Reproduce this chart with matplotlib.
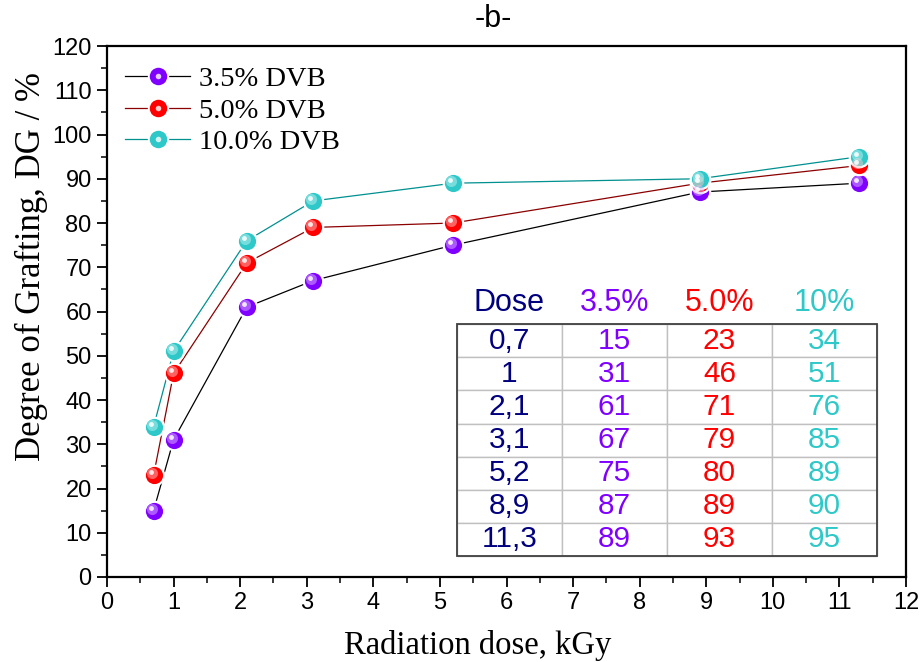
import numpy as np
import matplotlib.pyplot as plt
from matplotlib.ticker import MultipleLocator
from matplotlib.transforms import offset_copy
from matplotlib.legend_handler import HandlerTuple
from matplotlib.lines import Line2D

# data
dose = [0.7, 1, 2.1, 3.1, 5.2, 8.9, 11.3]
dose_lbl = ['0,7', '1', '2,1', '3,1', '5,2', '8,9', '11,3']
dg_35 = [15, 31, 61, 67, 75, 87, 89]
dg_50 = [23, 46, 71, 79, 80, 89, 93]
dg_10 = [34, 51, 76, 85, 89, 90, 95]
labels = ['3.5% DVB', '5.0% DVB', '10.0% DVB']
col_heads = ['Dose', '3.5%', '5.0%', '10%']

# marker colour, light shade, line colour
styles = [('#8000ff', '#d9b3ff', '#000000'),
          ('#ff0000', '#ffc0c0', '#8b0000'),
          ('#2ec8c8', '#c0f0f0', '#009090')]
head_colors = ['#00007f', '#8000ff', '#ff0000', '#2ec8c8']

fig = plt.figure(figsize=(9.2, 6.62), dpi=100)
ax = fig.add_axes([0.1163, 0.1284, 0.8685, 0.8021])

serif = ['Liberation Serif', 'DejaVu Serif']
narrow = ['Liberation Sans Narrow', 'Liberation Sans', 'DejaVu Sans']
sans = ['Liberation Sans', 'DejaVu Sans']

hi1 = offset_copy(ax.transData, fig=fig, x=-2, y=2, units='dots')
hi2 = offset_copy(ax.transData, fig=fig, x=-3, y=3, units='dots')

handles = []
for ys, lab, (mc, lc, ln) in zip([dg_35, dg_50, dg_10], labels, styles):
    ax.plot(dose, ys, '-', color=ln, lw=0.9, zorder=2)
    ax.plot(dose, ys, 'o', ms=14, mfc=mc, mec='white', mew=1.6, zorder=3)
    ax.plot(dose, ys, 'o', ms=8, mfc=lc, mec='none', alpha=0.5,
            transform=hi1, zorder=4)
    ax.plot(dose, ys, 'o', ms=3.5, mfc='white', mec='none', alpha=0.85,
            transform=hi2, zorder=5)
    h_line = Line2D([], [], color=ln, lw=0.9)
    h_mk = Line2D([], [], marker='o', ls='none', ms=14, mfc=mc, mec='white', mew=1.4)
    h_hi = Line2D([], [], marker='o', ls='none', ms=4, mfc='white', mec='none', alpha=0.8)
    handles.append((h_line, h_mk, h_hi))

leg = ax.legend(handles, labels, loc='upper left', bbox_to_anchor=(18 / 799, 0.962),
                borderaxespad=0, borderpad=0,
                frameon=False, handlelength=2.3, handletextpad=0.3, labelspacing=0.2,
                handler_map={tuple: HandlerTuple(ndivide=1, pad=0)},
                prop={'family': serif, 'size': 20.5})

ax.set_xlim(0, 12)
ax.set_ylim(0, 120)
ax.xaxis.set_major_locator(MultipleLocator(1))
ax.xaxis.set_minor_locator(MultipleLocator(0.5))
ax.yaxis.set_major_locator(MultipleLocator(10))
ax.yaxis.set_minor_locator(MultipleLocator(5))
ax.tick_params(which='major', direction='out', length=7, width=1.3, labelsize=17, pad=4)
ax.tick_params(which='minor', direction='out', length=4, width=1.1)
for t in ax.get_xticklabels() + ax.get_yticklabels():
    t.set_family(narrow)
for s in ax.spines.values():
    s.set_linewidth(1.6)

ax.set_xlabel('Radiation dose, kGy', family=serif, fontsize=23.5)
ax.set_ylabel('Degree of Grafting, DG / %', family=serif, fontsize=25)
ax.xaxis.set_label_coords(0.464, -0.10)
ax.yaxis.set_label_coords(-0.074, 0.584)
fig.text(493 / 920, 1 - 19 / 662, '-b-', ha='center', va='center',
         family=sans, fontsize=22)

# inset table
cells = [[d, str(a), str(b), str(c)] for d, a, b, c in zip(dose_lbl, dg_35, dg_50, dg_10)]
tab = ax.table(cellText=cells, colLabels=col_heads, cellLoc='center',
               bbox=[0.438, 0.0395, 0.5257, 0.5176], zorder=6)
tab.auto_set_font_size(False)
nrows = len(cells)
for (r, c), cell in tab.get_celld().items():
    cell.set_facecolor('white')
    txt = cell.get_text()
    txt.set_family(sans)
    txt.set_fontsize(21.5)
    txt.set_color(head_colors[c])
    if r == 0:
        cell.visible_edges = ''
        cell.set_facecolor('none')
        cell.set_height(cell.get_height() * 1.3)
        txt.set_fontsize(22)
    else:
        cell.set_edgecolor('#c0c0c0')
        cell.set_linewidth(1.0)

# dark outer border of the table body
x0, w = 0.438, 0.5257
y0 = 0.0395
row_h = 0.5176 / (nrows + 1.3)
ax.add_patch(plt.Rectangle((x0, y0), w, row_h * nrows, transform=ax.transAxes,
                           fill=False, ec='#404040', lw=1.3, zorder=7))

fig.savefig('out.png', dpi=100)
